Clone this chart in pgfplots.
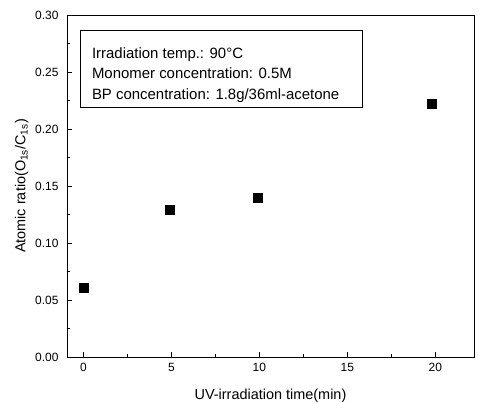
\documentclass[border=0pt]{standalone}
\usepackage{pgfplots}
\pgfplotsset{compat=1.18}
\usepackage{fontspec}
\setmainfont{Liberation Sans}
\begin{document}
\begin{tikzpicture}
\begin{axis}[
  name=ax,
  scale only axis,
  width=407bp, height=342bp,
  xmin=-0.93, xmax=22.2,
  ymin=0, ymax=0.30,
  xtick={0,5,10,15,20},
  ytick={0,0.05,0.10,0.15,0.20,0.25,0.30},
  minor x tick num=1,
  minor y tick num=1,
  xtick pos=left, ytick pos=left,
  tick align=inside,
  major tick length=5bp, minor tick length=3bp,
  axis line style={line width=0.8bp},
  every tick/.style={black, line width=0.7bp},
  /pgf/number format/assume math mode=true,
  yticklabel style={/pgf/number format/fixed, /pgf/number format/precision=2, /pgf/number format/fixed zerofill, font=\fontsize{12}{14}\selectfont, xshift=-5bp},
  xticklabel style={font=\fontsize{12}{14}\selectfont, yshift=-2.5bp},
  scaled y ticks=false,
  xlabel={UV-irradiation time(min)},
  ylabel={Atomic ratio(O\textsubscript{1s}/C\textsubscript{1s})},
  label style={font=\fontsize{14.5}{16}\selectfont},
  xlabel style={yshift=-11bp},
  ylabel style={yshift=0bp},
  clip=false,
]
\addplot[only marks, mark=square*, mark size=4.6bp, black] coordinates {
  (0,0.061) (4.9,0.129) (9.9,0.140) (19.8,0.222)
};
\draw[line width=0.6bp] (rel axis cs:0.032,0.956) rectangle (rel axis cs:0.725,0.731);
\node[anchor=north west, align=left, inner sep=0pt, font=\fontsize{15}{20.5}\selectfont]
  at (rel axis cs:0.061,0.905) {Irradiation temp.: 90\textdegree C\\Monomer concentration: 0.5M\\BP concentration: 1.8g/36ml-acetone};
\end{axis}
\pgfresetboundingbox
\path ([shift={(-67bp,-45bp)}]ax.south west) rectangle ([shift={(4bp,15bp)}]ax.north east);
\end{tikzpicture}
\end{document}
